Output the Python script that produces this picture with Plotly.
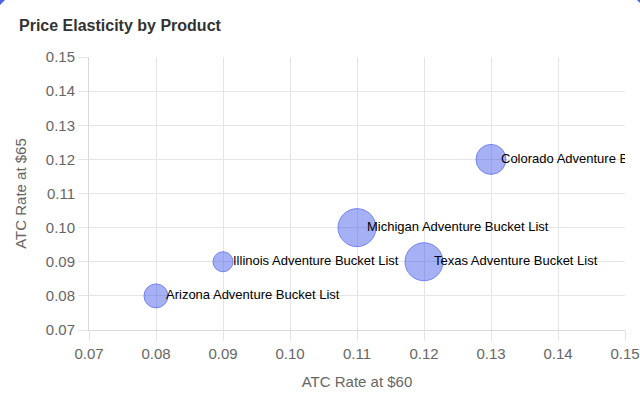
import plotly.graph_objects as go

# product bubbles: ATC rate at $60 (x), ATC rate at $65 (y), bubble radius (px)
products = ['Arizona Adventure Bucket List', 'Illinois Adventure Bucket List',
            'Michigan Adventure Bucket List', 'Texas Adventure Bucket List',
            'Colorado Adventure Bucket List']
atc_60 = [0.08, 0.09, 0.11, 0.12, 0.13]
atc_65 = [0.08, 0.09, 0.10, 0.09, 0.12]
radius = [12, 10, 19, 19, 15]

ticks = [0.07, 0.08, 0.09, 0.10, 0.11, 0.12, 0.13, 0.14, 0.15]

font = 'Liberation Sans, Arial, Helvetica, sans-serif'
grid = '#e5e5e5'

W, H = 640, 404
M = dict(l=89, r=15, t=57, b=74)


def px(x, y):
    # figure pixel (from top-left) -> paper coords
    return ((x - M['l']) / (W - M['l'] - M['r']),
            (H - M['b'] - y) / (H - M['t'] - M['b']))


fig = go.Figure()

# bubbles
fig.add_trace(go.Scatter(
    x=atc_60, y=atc_65, mode='markers',
    marker=dict(size=[2 * r for r in radius], sizemode='diameter',
                color='rgba(45,70,232,0.6)',
                line=dict(color='rgba(45,70,232,0.9)', width=1)),
    hoverinfo='skip', showlegend=False,
))

# labels, about 10px right of each centre (invisible marker sets the offset)
fig.add_trace(go.Scatter(
    x=atc_60, y=atc_65, mode='markers+text', text=products,
    textposition='middle right',
    textfont=dict(family=font, size=13, color='#000'),
    marker=dict(size=14.4, opacity=0),
    cliponaxis=True, hoverinfo='skip', showlegend=False,
))

axis_style = dict(
    tickvals=ticks, tickformat='.2f',
    showgrid=True, gridcolor=grid, gridwidth=1,
    showline=True, linecolor='#d9d9d9', linewidth=1,
    ticks='outside', ticklen=10, tickcolor=grid,
    tickfont=dict(family=font, size=15, color='#666'),
    zeroline=False, mirror=False, automargin=False,
)

fig.update_xaxes(range=[0.07, 0.15],
                 title=dict(text='ATC Rate at $60', font=dict(family=font, size=15, color='#666')),
                 **axis_style)
fig.update_yaxes(range=[0.07, 0.15],
                 title=dict(text='ATC Rate at $65', font=dict(family=font, size=15, color='#666')),
                 **axis_style)

# blue background peeking out behind the card's rounded top corners
tl = [px(0, 0), px(5, 0), px(0, 5)]
tr = [px(637, 0), px(640, 0), px(640, 3)]
corner_paths = []
for pts in (tl, tr):
    corner_paths.append('M ' + ' L '.join(f'{a},{b}' for a, b in pts) + ' Z')

fig.update_layout(
    width=W, height=H,
    margin=M,
    paper_bgcolor='white', plot_bgcolor='white',
    title=dict(text='<b>Price Elasticity by Product</b>', x=19 / W, xanchor='left',
               y=1 - 25 / H, yanchor='middle',
               font=dict(family=font, size=16, color='#333')),
    shapes=[dict(type='path', path=p, xref='paper', yref='paper',
                 fillcolor='#4a62ee', line=dict(width=0), layer='above')
            for p in corner_paths],
)

# drop the page's default body margin and scrollbars so the chart sits at the corner
fig.write_html('out.html', config={'displayModeBar': False},
               post_script="document.body.style.margin='0';document.body.style.overflow='hidden';")
